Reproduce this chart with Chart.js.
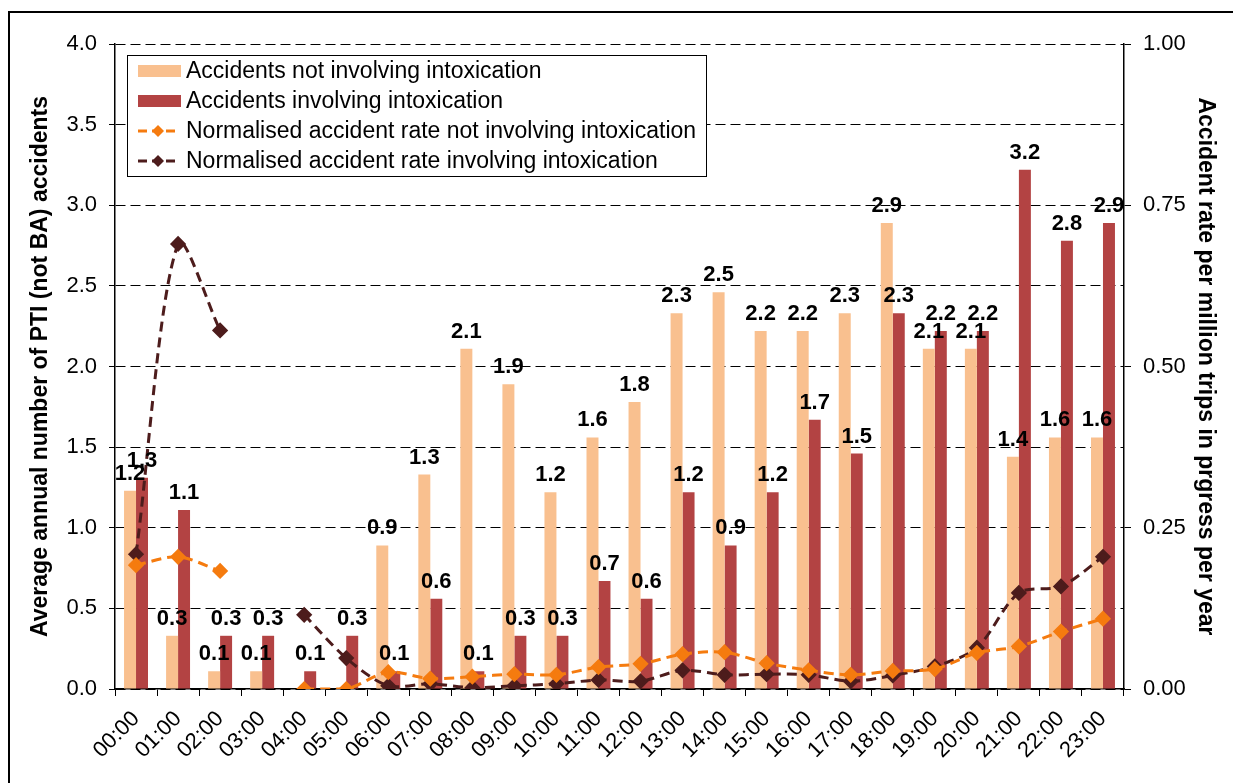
<!DOCTYPE html>
<html>
<head>
<meta charset="utf-8">
<script src="https://cdn.jsdelivr.net/npm/chart.js@4.4.1/dist/chart.umd.min.js"></script>
<style>
  body { margin: 0; background: #fff; }
  canvas { display: block; }
</style>
</head>
<body>
<canvas id="accidentChart" width="1233" height="783"></canvas>
<script>
const hours = [
  '00:00', '01:00', '02:00', '03:00', '04:00', '05:00', '06:00', '07:00',
  '08:00', '09:00', '10:00', '11:00', '12:00', '13:00', '14:00', '15:00',
  '16:00', '17:00', '18:00', '19:00', '20:00', '21:00', '22:00', '23:00'
];
// average annual accidents (left axis)
const notIntoxicated = [1.23, 0.33, 0.11, 0.11, 0, 0, 0.89, 1.33, 2.11, 1.89, 1.22, 1.56,
  1.78, 2.33, 2.46, 2.22, 2.22, 2.33, 2.89, 2.11, 2.11, 1.44, 1.56, 1.56];
const intoxicated = [1.31, 1.11, 0.33, 0.33, 0.11, 0.33, 0.11, 0.56, 0.11, 0.33, 0.33, 0.67,
  0.56, 1.22, 0.89, 1.22, 1.67, 1.46, 2.33, 2.22, 2.22, 3.22, 2.78, 2.89];
// accident rate per million trips (right axis)
const rateNotIntoxicated = [0.192, 0.205, 0.183, null, 0.000, 0.000, 0.026, 0.016, 0.019, 0.023, 0.022, 0.034,
  0.039, 0.054, 0.057, 0.040, 0.029, 0.022, 0.028, 0.031, 0.056, 0.066, 0.089, 0.109];
const rateIntoxicated = [0.209, 0.690, 0.556, null, 0.115, 0.048, 0.005, 0.008, 0.002, 0.005, 0.008, 0.014,
  0.012, 0.029, 0.022, 0.023, 0.022, 0.012, 0.021, 0.035, 0.064, 0.149, 0.159, 0.205];

const FONT = 'Arial, "Liberation Sans", sans-serif';

// white page and the frame line of the figure
const frame = {
  id: 'frame',
  beforeDraw(chart) {
    const ctx = chart.ctx;
    ctx.save();
    ctx.fillStyle = '#fff';
    ctx.fillRect(0, 0, chart.width, chart.height);
    ctx.strokeStyle = '#000';
    ctx.lineWidth = 2;
    ctx.beginPath();
    ctx.moveTo(chart.width, 12);
    ctx.lineTo(9, 12);
    ctx.lineTo(9, chart.height);
    ctx.stroke();
    ctx.restore();
  }
};

// value labels above the bars
const barLabels = {
  id: 'barLabels',
  afterDatasetsDraw(chart) {
    const ctx = chart.ctx;
    ctx.save();
    ctx.font = 'bold 22px ' + FONT;
    ctx.fillStyle = '#000';
    ctx.textAlign = 'center';
    ctx.textBaseline = 'alphabetic';
    chart.data.datasets.forEach((ds, i) => {
      if (ds.type !== 'bar') return;
      chart.getDatasetMeta(i).data.forEach((bar, j) => {
        const v = ds.data[j];
        if (!v) return;
        ctx.fillText(v.toFixed(1), bar.x, bar.y - 11);
      });
    });
    ctx.restore();
  }
};

// boxed legend inside the plot area
const boxLegend = {
  id: 'boxLegend',
  afterDraw(chart) {
    const ctx = chart.ctx;
    const a = chart.chartArea;
    const x0 = a.left + 12, y0 = a.top + 11;
    const w = 579, h = 121;
    ctx.save();
    ctx.fillStyle = '#fff';
    ctx.fillRect(x0, y0, w, h);
    ctx.strokeStyle = '#000';
    ctx.lineWidth = 1;
    ctx.strokeRect(x0 + 0.5, y0 + 0.5, w, h);
    ctx.font = '23px ' + FONT;
    ctx.textBaseline = 'middle';
    chart.data.datasets.forEach((ds, i) => {
      const cy = y0 + 16 + i * 30;
      const sx = x0 + 11;
      if (ds.type === 'bar') {
        ctx.fillStyle = ds.backgroundColor;
        ctx.fillRect(sx, cy - 6, 43, 12);
      } else {
        ctx.strokeStyle = ds.borderColor;
        ctx.lineWidth = 3;
        ctx.setLineDash([9, 5]);
        ctx.beginPath();
        ctx.moveTo(sx, cy);
        ctx.lineTo(sx + 40, cy);
        ctx.stroke();
        ctx.setLineDash([]);
        ctx.fillStyle = ds.borderColor;
        ctx.beginPath();
        ctx.moveTo(sx + 20, cy - 6);
        ctx.lineTo(sx + 26, cy);
        ctx.lineTo(sx + 20, cy + 6);
        ctx.lineTo(sx + 14, cy);
        ctx.closePath();
        ctx.fill();
      }
      ctx.fillStyle = '#000';
      ctx.fillText(ds.label, x0 + 59, cy + 1);
    });
    ctx.restore();
  }
};

const data = {
  labels: hours,
  datasets: [
    {
      type: 'bar',
      label: 'Accidents not involving intoxication',
      data: notIntoxicated,
      backgroundColor: '#F9C08F',
      yAxisID: 'y',
      order: 2,
      barPercentage: 1,
      categoryPercentage: 0.57
    },
    {
      type: 'bar',
      label: 'Accidents involving intoxication',
      data: intoxicated,
      backgroundColor: '#B34343',
      yAxisID: 'y',
      order: 2,
      barPercentage: 1,
      categoryPercentage: 0.57
    },
    {
      type: 'line',
      label: 'Normalised accident rate not involving intoxication',
      data: rateNotIntoxicated,
      borderColor: '#F57B0F',
      backgroundColor: '#F57B0F',
      borderWidth: 3,
      borderDash: [10, 6],
      pointStyle: 'rectRot',
      pointRadius: 6,
      tension: 0.3,
      spanGaps: false,
      yAxisID: 'y1',
      order: 1
    },
    {
      type: 'line',
      label: 'Normalised accident rate involving intoxication',
      data: rateIntoxicated,
      borderColor: '#4D1C1C',
      backgroundColor: '#4D1C1C',
      borderWidth: 3,
      borderDash: [10, 6],
      pointStyle: 'rectRot',
      pointRadius: 6,
      tension: 0.3,
      spanGaps: false,
      yAxisID: 'y1',
      order: 1
    }
  ]
};

const config = {
  type: 'bar',
  data,
  options: {
    responsive: false,
    animation: false,
    layout: { padding: { left: 9, right: 4, top: 44, bottom: 0 } },
    plugins: {
      legend: { display: false },
      tooltip: { enabled: false }
    },
    scales: {
      x: {
        grid: { display: true, drawOnChartArea: false, drawTicks: true, tickLength: 7, color: '#000', offset: true },
        border: { display: true, color: '#000', width: 1.5 },
        ticks: { color: '#000', font: { family: FONT, size: 22 }, minRotation: 45, maxRotation: 45, padding: 10 },
        afterFit(scale) { scale.height = 94; }
      },
      y: {
        position: 'left',
        min: 0,
        max: 4,
        ticks: {
          stepSize: 0.5,
          color: '#000',
          padding: 12,
          font: { family: FONT, size: 22 },
          callback: v => v.toFixed(1)
        },
        grid: { color: '#000', lineWidth: 1, tickLength: 6, tickColor: '#000', tickBorderDash: [] },
        border: { display: true, color: '#000', width: 1.5, dash: [10, 5] },
        title: {
          display: true,
          text: 'Average annual number of PTI (not BA) accidents',
          color: '#000',
          font: { family: FONT, size: 23, weight: 'bold' },
          padding: { top: 18, bottom: 0 }
        },
        afterFit(scale) { scale.width = 106; }
      },
      y1: {
        position: 'right',
        min: 0,
        max: 1,
        ticks: {
          stepSize: 0.25,
          color: '#000',
          padding: 12,
          font: { family: FONT, size: 22 },
          callback: v => v.toFixed(2)
        },
        grid: { drawOnChartArea: false, tickLength: 7, tickColor: '#000' },
        border: { display: true, color: '#000', width: 1.5 },
        title: {
          display: true,
          text: 'Accident rate per million trips in prgress per year',
          color: '#000',
          font: { family: FONT, size: 23, weight: 'bold' },
          padding: { top: 10, bottom: 0 }
        },
        afterFit(scale) { scale.width = 105; }
      }
    }
  },
  plugins: [frame, barLabels, boxLegend]
};

const accidentChart = new Chart(
  document.getElementById('accidentChart'),
  config
);
</script>
</body>
</html>
